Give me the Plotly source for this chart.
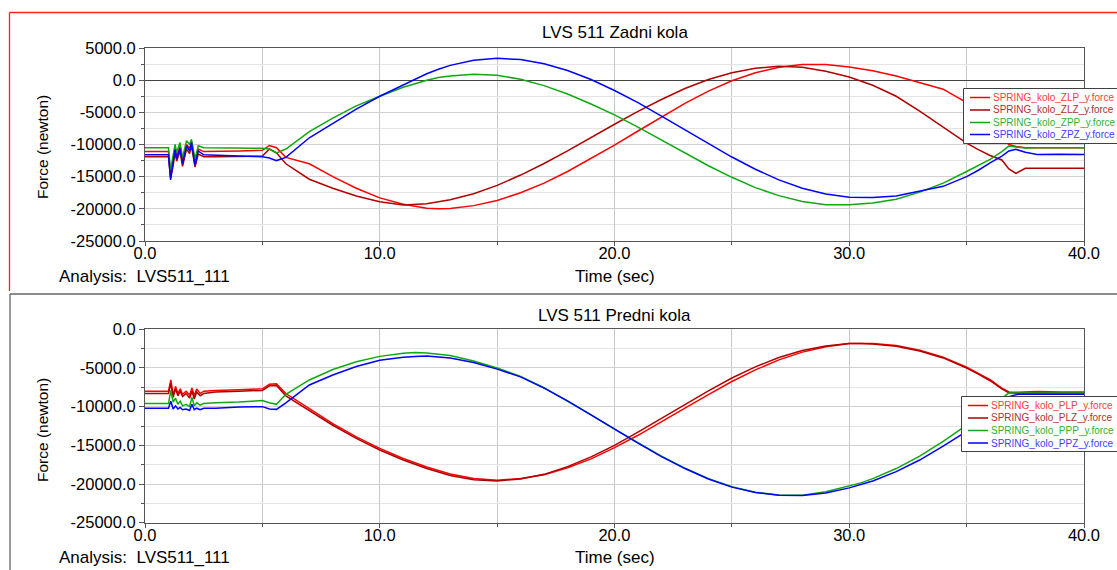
import plotly.graph_objects as go

# ---------------- data ----------------
t_top = [0, 1.0, 1.09, 1.2, 1.28, 1.35, 1.49, 1.6, 1.77, 1.9, 1.98, 2.13, 2.27, 2.5, 3, 4, 5, 5.3, 5.6, 6, 7,
         8, 9, 10, 11, 12, 12.5, 13, 14, 15, 16, 17, 18, 19, 20, 21, 22, 23, 24, 25, 26, 27, 28, 29, 30,
         31, 32, 33, 34, 35, 35.5, 36, 36.5, 36.8, 37.1, 37.5, 38, 39, 40]

zlp = [-11100, -11100, -14800, -12500, -10500, -11800, -10300, -12600, -10000, -10600, -9500, -12900, -10700, -11100,
       -11100, -11000, -10900, -10150, -10500, -12000, -13000,
       -15000, -16800, -18300, -19300, -19900, -20000, -19950, -19500, -18700, -17500, -16000, -14200, -12200, -10100,
       -7900, -5700, -3600, -1700, -100, 1150, 2000, 2450, 2450, 2050,
       1450, 650, -350, -1400, -3500, -5000, -7000, -9000, -10000, -10300, -10500, -10500, -10450, -10500]

zlz = [-11900, -11900, -15200, -13300, -11200, -12600, -11000, -13400, -10700, -11400, -10200, -13500, -11500, -11900,
       -11900, -11850, -11800, -10700, -11300, -13000, -15400,
       -16800, -18000, -18900, -19400, -19200, -18950, -18600, -17650, -16350, -14750, -12950, -11000, -8900, -6850,
       -4850, -3000, -1300, 100, 1150, 1850, 2180, 2000, 1400, 500,
       -800, -2500, -4800, -7300, -9800, -10800, -11700, -12400, -13800, -14500, -13700, -13700, -13750, -13700]

zpp = [-10500, -10500, -14000, -11800, -10000, -11200, -9700, -12000, -9400, -10000, -9200, -12200, -10200, -10500,
       -10500, -10600, -10600, -10700, -11300, -10700, -8000,
       -5900, -4000, -2500, -1100, 0, 400, 650, 930, 750, 150, -850, -2150, -3700, -5400,
       -7300, -9300, -11300, -13300, -15100, -16700, -17950, -18850, -19350, -19380,
       -19100, -18500, -17400, -16000, -14200, -13300, -12300, -11100, -10250, -10400, -10550, -10500, -10550, -10500]

zpz = [-11600, -11600, -15500, -13000, -10800, -12200, -10600, -13000, -10200, -11000, -9700, -13200, -11000, -11600,
       -11700, -11800, -11900, -12100, -12500, -12000, -8950,
       -6700, -4500, -2500, -800, 1000, 1700, 2300, 3100, 3400, 3200, 2550, 1500, 100, -1600,
       -3500, -5600, -7750, -9900, -11950, -13850, -15500, -16800, -17700, -18200,
       -18250, -18000, -17300, -16500, -15000, -14000, -12850, -11800, -11000, -10750, -11200, -11550, -11500, -11550]

t_bot = [0, 1.0, 1.1, 1.2, 1.3, 1.4, 1.5, 1.6, 1.75, 1.9, 2.0, 2.1, 2.2, 2.35, 2.5, 3, 4, 5, 5.3, 5.6, 6, 7,
         8, 9, 10, 11, 11.5, 12, 13, 14, 15, 16, 17, 18, 19, 20, 21, 22, 23, 24, 25, 26, 27, 28, 29, 30,
         30.5, 31, 32, 33, 34, 35, 35.5, 36, 36.5, 36.8, 37.2, 38, 39, 40]

plp = [-8000, -8000, -6550, -8500, -7400, -8300, -7700, -8400, -8000, -8500, -7600, -8600, -7700, -8300, -8000,
       -7900, -7800, -7700, -7100, -7050, -8300, -10300,
       -12200, -13900, -15400, -16700, -17250, -17800, -18700, -19300, -19500, -19300, -18800, -17900, -16750, -15300,
       -13700, -12000, -10200, -8450, -6750, -5250, -3950, -2950, -2250, -1850,
       -1800, -1820, -2100, -2700, -3600, -4900, -5700, -6500, -7600, -8100, -8150, -8050, -8100, -8100]

plz = [-8300, -8300, -7000, -8800, -7700, -8600, -8000, -8700, -8300, -8900, -8000, -9000, -8100, -8600, -8300,
       -8100, -8000, -7900, -7300, -7250, -8600, -10500,
       -12400, -14100, -15600, -16900, -17450, -18000, -18900, -19450, -19600, -19350, -18750, -17750, -16500, -15000,
       -13300, -11500, -9700, -7950, -6300, -4850, -3650, -2750, -2150, -1850,
       -1850, -1900, -2200, -2800, -3700, -5000, -5800, -6650, -7700, -8200, -8300, -8200, -8250, -8200]

ppp = [-9600, -9600, -7900, -9400, -8900, -9700, -9300, -9900, -9700, -10000, -8800, -9900, -9500, -9800, -9600,
       -9500, -9400, -9200, -9500, -9700, -8400, -6550,
       -5200, -4200, -3500, -3100, -3000, -3050, -3400, -4100, -5000, -6100, -7550, -9250, -11050, -12900,
       -14700, -16400, -17950, -19300, -20350, -21050, -21420, -21450, -21000, -20300,
       -19850, -19300, -18000, -16400, -14500, -12400, -11300, -10200, -8900, -8250, -8250, -8250, -8300, -8250]

ppz = [-10200, -10200, -9300, -10300, -9900, -10300, -10100, -10400, -10300, -10500, -9700, -10400, -10200, -10400, -10200,
       -10200, -10050, -10000, -10300, -10350, -9500, -7200,
       -5900, -4800, -4000, -3600, -3500, -3450, -3700, -4300, -5150, -6150, -7600, -9250, -11050, -12900,
       -14700, -16450, -18000, -19350, -20400, -21100, -21450, -21480, -21150, -20500,
       -20100, -19600, -18400, -16900, -15100, -13200, -12100, -11000, -9600, -8700, -8400, -8400, -8450, -8400]

names_top = ["SPRING_kolo_ZLP_y.force", "SPRING_kolo_ZLZ_y.force", "SPRING_kolo_ZPP_y.force", "SPRING_kolo_ZPZ_y.force"]
names_bot = ["SPRING_kolo_PLP_y.force", "SPRING_kolo_PLZ_y.force", "SPRING_kolo_PPP_y.force", "SPRING_kolo_PPZ_y.force"]

x_ticks = [0, 10, 20, 30, 40]
x_labels = ["0.0", "10.0", "20.0", "30.0", "40.0"]
y_ticks_top = [5000, 0, -5000, -10000, -15000, -20000, -25000]
y_labels_top = ["5000.0", "0.0", "-5000.0", "-10000.0", "-15000.0", "-20000.0", "-25000.0"]
y_ticks_bot = [0, -5000, -10000, -15000, -20000, -25000]
y_labels_bot = ["0.0", "-5000.0", "-10000.0", "-15000.0", "-20000.0", "-25000.0"]

line_colors = ["#ff0000", "#b00000", "#10a810", "#0000ff"]
text_colors = ["#ff3c3c", "#b03030", "#33b033", "#4040ff"]

# ---------------- figure ----------------
W, H = 1117, 570
def px(x): return x / W
def py(y): return 1 - y / H

FONT = "Liberation Sans, Arial, sans-serif"

fig = go.Figure()
for name, ys, c in zip(names_top, [zlp, zlz, zpp, zpz], line_colors):
    fig.add_trace(go.Scatter(x=t_top, y=ys, mode="lines", name=name, line=dict(color=c, width=1.5),
                             xaxis="x", yaxis="y", showlegend=False))
for name, ys, c in zip(names_bot, [plp, plz, ppp, ppz], line_colors):
    fig.add_trace(go.Scatter(x=t_bot, y=ys, mode="lines", name=name, line=dict(color=c, width=1.5),
                             xaxis="x2", yaxis="y2", showlegend=False))

AX = "#555555"
def xaxis(domain, anchor):
    return dict(domain=domain, anchor=anchor, range=[0, 40], tickvals=x_ticks, ticktext=x_labels,
                showline=True, mirror=True, linecolor=AX, linewidth=1, ticks="outside", ticklen=4,
                tickcolor=AX, showgrid=True, gridcolor="#c8c8c8", zeroline=False, automargin=False,
                ticklabelstandoff=-7,
                minor=dict(dtick=5, showgrid=True, gridcolor="#c8c8c8", ticks="outside", ticklen=3, tickcolor=AX),
                tickfont=dict(family=FONT, size=16.5, color="#000"))

def yaxis(domain, anchor, rng, tv, tt):
    return dict(domain=domain, anchor=anchor, range=rng, tickvals=tv, ticktext=tt,
                showline=True, mirror=True, linecolor=AX, linewidth=1, ticks="outside", ticklen=5,
                tickcolor=AX, showgrid=True, gridcolor="#d0d0d0", zeroline=True, zerolinecolor="#444",
                zerolinewidth=1, automargin=False,
                minor=dict(dtick=2500, tick0=0, showgrid=True, gridcolor="#e4e4e4", ticks="outside", ticklen=3,
                           tickcolor=AX),
                tickfont=dict(family=FONT, size=16.5, color="#000"))

xd = [px(145), px(1084)]
fig.update_layout(
    width=W, height=H, margin=dict(l=0, r=0, t=0, b=0, autoexpand=False),
    paper_bgcolor="white", plot_bgcolor="white", showlegend=False,
    xaxis=xaxis(xd, "y"),
    yaxis=yaxis([py(241), py(48)], "x", [-25000, 5000], y_ticks_top, y_labels_top),
    xaxis2=xaxis(xd, "y2"),
    yaxis2=yaxis([py(522.7), py(329.3)], "x2", [-25000, 0], y_ticks_bot, y_labels_bot),
)

shapes = []
annotations = []

# panel frames
shapes.append(dict(type="line", xref="paper", yref="paper", x0=px(9.5), x1=px(1120), y0=py(12.5), y1=py(12.5),
                   line=dict(color="#ff2020", width=1.3)))
shapes.append(dict(type="line", xref="paper", yref="paper", x0=px(9.5), x1=px(9.5), y0=py(12.5), y1=py(291),
                   line=dict(color="#ff2020", width=1.3)))
shapes.append(dict(type="line", xref="paper", yref="paper", x0=px(10), x1=px(1120), y0=py(294), y1=py(294),
                   line=dict(color="#666666", width=1.3)))
shapes.append(dict(type="line", xref="paper", yref="paper", x0=px(10), x1=px(10), y0=py(294), y1=py(575),
                   line=dict(color="#666666", width=1.3)))

def text(x, y, s, size=17, color="#000", xanchor="center", angle=0):
    annotations.append(dict(x=px(x), y=py(y), xref="paper", yref="paper", text=s, showarrow=False,
                            xanchor=xanchor, yanchor="middle", textangle=angle,
                            font=dict(family=FONT, size=size, color=color)))

for ytitle, ytime, yforce, title in [(33, 276, 147, "LVS 511 Zadni kola"), (315, 557, 430, "LVS 511 Predni kola")]:
    text(614.5, ytitle, title, size=17)
    text(614.5, ytime, "Time (sec)", size=17)
    text(57, ytime, "Analysis:  LVS511_111", size=17, xanchor="left")
    text(42, yforce, "Force (newton)", size=15.5, angle=-90)

# custom legends
def legend(box, rows, lx0, lx1, tx, names):
    x0, y0, x1, y1 = box
    shapes.append(dict(type="rect", xref="paper", yref="paper", x0=px(x0), x1=px(x1), y0=py(y1), y1=py(y0),
                       fillcolor="white", line=dict(color="#404040", width=1), layer="above"))
    for yy, name, lc, tc in zip(rows, names, line_colors, text_colors):
        shapes.append(dict(type="line", xref="paper", yref="paper", x0=px(lx0), x1=px(lx1), y0=py(yy), y1=py(yy),
                           line=dict(color=lc, width=1.5), layer="above"))
        annotations.append(dict(x=px(tx), y=py(yy), xref="paper", yref="paper", text=name, showarrow=False,
                                xanchor="left", yanchor="middle",
                                font=dict(family=FONT, size=10, color=tc)))

legend((963.5, 88.5, 1130, 143.5), [97.5, 110, 122.5, 134.5], 970, 990, 991, names_top)
legend((961.5, 396.5, 1130, 451.5), [405.5, 418, 430.5, 443], 968, 988, 989, names_bot)

fig.update_layout(shapes=shapes, annotations=annotations)
fig.write_html("out.html")
